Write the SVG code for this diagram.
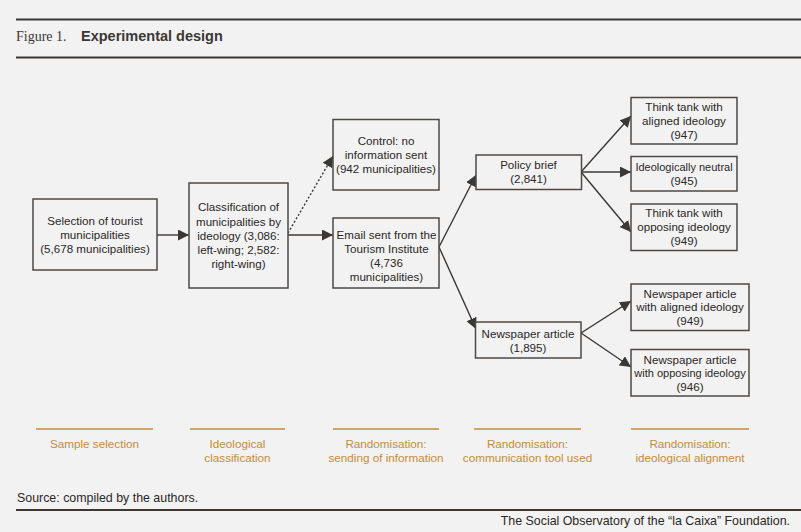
<svg xmlns="http://www.w3.org/2000/svg" width="801" height="532" viewBox="0 0 801 532">
<defs>
<style>
.bg{fill:#f2f2f2}
.rule{stroke:#3b3735;stroke-width:2;fill:none}
.box{fill:#f2f2f2;stroke:#4d4846;stroke-width:1.5}
.t{font-family:"Liberation Sans",Arial,sans-serif;font-size:11.6px;fill:#2b2725;text-anchor:middle}
.tn{font-size:11px}
.edge{stroke:#3b3735;stroke-width:1.4;fill:none}
.dot{stroke:#3b3735;stroke-width:1.4;fill:none;stroke-dasharray:2 2}
.gold{stroke:#d0a566;stroke-width:2;fill:none}
.gt{font-family:"Liberation Sans",Arial,sans-serif;font-size:11.7px;fill:#c68c3a;text-anchor:middle}
.foot{font-family:"Liberation Sans",Arial,sans-serif;font-size:12.4px;fill:#2b2725}
</style>
<marker id="ah" viewBox="0 0 10 10" refX="10" refY="5" markerWidth="11" markerHeight="11" markerUnits="userSpaceOnUse" orient="auto">
<path d="M0,0 L10,5 L0,10 z" fill="#3b3735"/>
</marker>
</defs>
<rect class="bg" x="0" y="0" width="801" height="532"/>
<line class="rule" x1="16" y1="19.5" x2="801" y2="19.5"/>
<line class="rule" x1="16" y1="57.5" x2="801" y2="57.5"/>
<text x="16" y="41" font-family="Liberation Serif,serif" font-size="14" fill="#3b3735">Figure 1.</text>
<text x="81" y="41" font-family="Liberation Sans,Arial,sans-serif" font-size="14.5" font-weight="bold" fill="#3b3735">Experimental design</text>

<g id="connectors">
<line class="edge" x1="157" y1="235" x2="189" y2="235" marker-end="url(#ah)"/>
<line class="dot" x1="288" y1="233" x2="333" y2="156" marker-end="url(#ah)"/>
<line class="edge" x1="288" y1="235" x2="333" y2="235" marker-end="url(#ah)"/>
<line class="edge" x1="439" y1="247" x2="476" y2="175" marker-end="url(#ah)"/>
<line class="edge" x1="439" y1="247" x2="476" y2="329" marker-end="url(#ah)"/>
<line class="edge" x1="581" y1="172" x2="631" y2="116" marker-end="url(#ah)"/>
<line class="edge" x1="581" y1="172" x2="631" y2="172" marker-end="url(#ah)"/>
<line class="edge" x1="581" y1="172" x2="631" y2="232" marker-end="url(#ah)"/>
<line class="edge" x1="581" y1="333" x2="631" y2="301" marker-end="url(#ah)"/>
<line class="edge" x1="581" y1="333" x2="631" y2="367" marker-end="url(#ah)"/>
</g>

<g id="n1">
<rect class="box" x="33" y="199" width="124" height="71"/>
<text class="t" x="95" y="225">Selection of tourist</text>
<text class="t" x="95" y="239">municipalities</text>
<text class="t" x="95" y="253">(5,678 municipalities)</text>
</g>
<g id="n2">
<rect class="box" x="189" y="183" width="99" height="105"/>
<text class="t" x="238.5" y="211">Classification of</text>
<text class="t" x="238.5" y="225.5">municipalities by</text>
<text class="t" x="238.5" y="239.5">ideology (3,086:</text>
<text class="t" x="238.5" y="253.5">left-wing; 2,582:</text>
<text class="t" x="238.5" y="267.5">right-wing)</text>
</g>
<g id="n3">
<rect class="box" x="333" y="119.5" width="106" height="70.5"/>
<text class="t" x="386" y="145">Control: no</text>
<text class="t" x="386" y="158.5">information sent</text>
<text class="t" x="386" y="172.5">(942 municipalities)</text>
</g>
<g id="n4">
<rect class="box" x="333" y="218" width="106" height="70"/>
<text class="t" x="386.5" y="239">Email sent from the</text>
<text class="t" x="386.5" y="252.5">Tourism Institute</text>
<text class="t" x="386.5" y="267">(4,736</text>
<text class="t" x="386.5" y="280.5">municipalities)</text>
</g>
<g id="n5">
<rect class="box" x="476" y="155" width="105.5" height="34.5"/>
<text class="t" x="528.5" y="169">Policy brief</text>
<text class="t" x="528.5" y="183">(2,841)</text>
</g>
<g id="n6">
<rect class="box" x="475.5" y="322" width="105.5" height="36"/>
<text class="t" x="528" y="337.5">Newspaper article</text>
<text class="t" x="528" y="351.5">(1,895)</text>
</g>
<g id="n7">
<rect class="box" x="631" y="97.5" width="106" height="46.5"/>
<text class="t" x="684" y="111">Think tank with</text>
<text class="t" x="684" y="125">aligned ideology</text>
<text class="t" x="684" y="138.5">(947)</text>
</g>
<g id="n8">
<rect class="box" x="631" y="156.5" width="106" height="34.5"/>
<text class="t tn" x="684" y="171">Ideologically neutral</text>
<text class="t" x="684" y="185">(945)</text>
</g>
<g id="n9">
<rect class="box" x="631" y="204" width="106" height="46.5"/>
<text class="t" x="684" y="217">Think tank with</text>
<text class="t" x="684" y="231">opposing ideology</text>
<text class="t" x="684" y="244.5">(949)</text>
</g>
<g id="n10">
<rect class="box" x="631" y="284" width="118" height="46.5"/>
<text class="t" x="690" y="297.5">Newspaper article</text>
<text class="t" x="690" y="311">with aligned ideology</text>
<text class="t" x="690" y="325">(949)</text>
</g>
<g id="n11">
<rect class="box" x="631" y="349.5" width="118" height="46.5"/>
<text class="t" x="690" y="363.5">Newspaper article</text>
<text class="t tn" x="690" y="377">with opposing ideology</text>
<text class="t" x="690" y="391">(946)</text>
</g>

<g id="stages">
<line class="gold" x1="36" y1="429" x2="153" y2="429"/>
<line class="gold" x1="190" y1="429" x2="285" y2="429"/>
<line class="gold" x1="333" y1="429" x2="439" y2="429"/>
<line class="gold" x1="474" y1="429" x2="581" y2="429"/>
<line class="gold" x1="631" y1="429" x2="749" y2="429"/>
<text class="gt" x="94.5" y="447.5">Sample selection</text>
<text class="gt" x="237.5" y="447.5">Ideological</text>
<text class="gt" x="237.5" y="462">classification</text>
<text class="gt" x="386" y="447.5">Randomisation:</text>
<text class="gt" x="386" y="462">sending of information</text>
<text class="gt" x="527.5" y="447.5">Randomisation:</text>
<text class="gt" x="527.5" y="462">communication tool used</text>
<text class="gt" x="690" y="447.5">Randomisation:</text>
<text class="gt" x="690" y="462">ideological alignment</text>
</g>

<text class="foot" x="17" y="502">Source: compiled by the authors.</text>
<line class="rule" x1="16" y1="510" x2="801" y2="510"/>
<text class="foot" x="790" y="524.5" text-anchor="end">The Social Observatory of the “la Caixa” Foundation.</text>
</svg>
